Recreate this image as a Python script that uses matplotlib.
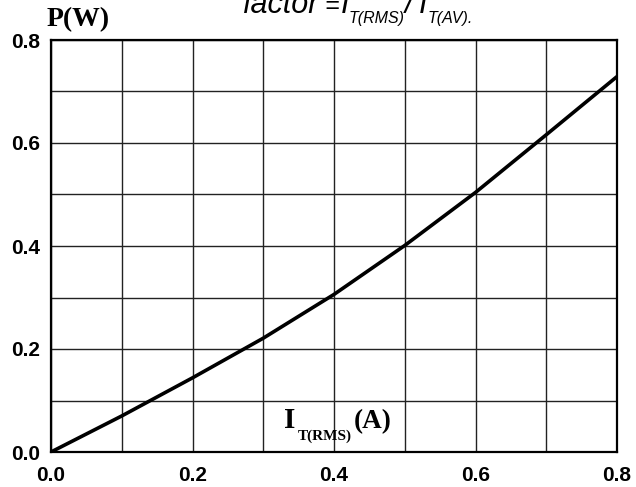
import matplotlib
matplotlib.use("Agg")
import matplotlib.pyplot as plt
from matplotlib.ticker import MultipleLocator

# Data
current_rms = [0.0, 0.1, 0.2, 0.3, 0.4, 0.5, 0.6, 0.7, 0.8]
power_w = [0.0, 0.070, 0.144, 0.221, 0.306, 0.401, 0.504, 0.616, 0.729]
x_ticks = [0.0, 0.2, 0.4, 0.6, 0.8]
y_ticks = [0.0, 0.2, 0.4, 0.6, 0.8]
x_tick_labels = ["0.0", "0.2", "0.4", "0.6", "0.8"]
y_tick_labels = ["0.0", "0.2", "0.4", "0.6", "0.8"]

W, H = 636, 487
fig = plt.figure(figsize=(W / 100, H / 100), dpi=100)
ax = fig.add_axes([51 / W, 1 - 452 / H, (617 - 51) / W, (452 - 40) / H])

ax.plot(current_rms, power_w, color='black', lw=2.6, solid_capstyle='butt', zorder=3)

ax.set_xlim(0, 0.8)
ax.set_ylim(0, 0.8)
ax.xaxis.set_minor_locator(MultipleLocator(0.1))
ax.yaxis.set_minor_locator(MultipleLocator(0.1))
ax.set_xticks(x_ticks)
ax.set_yticks(y_ticks)
ax.set_xticklabels(x_tick_labels, fontfamily='Liberation Sans', fontweight='bold', fontsize=15)
ax.set_yticklabels(y_tick_labels, fontfamily='Liberation Sans', fontweight='bold', fontsize=15)
ax.tick_params(which='both', length=0)
ax.tick_params(axis='x', pad=10)
ax.tick_params(axis='y', pad=8)
ax.grid(which='both', color='#222222', lw=1.0)
for s in ax.spines.values():
    s.set_linewidth(1.6)
    s.set_color('black')
    s.set_zorder(4)


def ptext(x, y, s, **kw):
    """Place text at pixel position (x from left, y baseline from top)."""
    return fig.text(x / W, 1 - y / H, s, ha='left', va='baseline', **kw)


serif_b = dict(fontfamily='Liberation Serif', fontweight='bold')
sans_i = dict(fontfamily='Liberation Sans', fontstyle='italic')

ptext(47, 26, "P(W)", fontsize=20, **serif_b)

# title (partially cut at top, as in the reference)
ptext(243, 13, "factor", fontsize=22, **sans_i)
ptext(324, 13, "=", fontsize=18, **sans_i)
ptext(341, 13, "I", fontsize=22, **sans_i)
ptext(349, 23, "T(RMS)", fontsize=11.5, **sans_i)
ptext(405, 13, "/", fontsize=22, **sans_i)
ptext(419, 13, "I", fontsize=22, **sans_i)
ptext(428, 23, "T(AV).", fontsize=11.5, **sans_i)

# axis label inside the plot
ptext(284, 428, "I", fontsize=21, zorder=5, **serif_b)
ptext(298, 440, "T(RMS)", fontsize=11, zorder=5, **serif_b)
ptext(354, 428, "(A)", fontsize=19.5, zorder=5, **serif_b)

fig.savefig("out.png", dpi=100)
